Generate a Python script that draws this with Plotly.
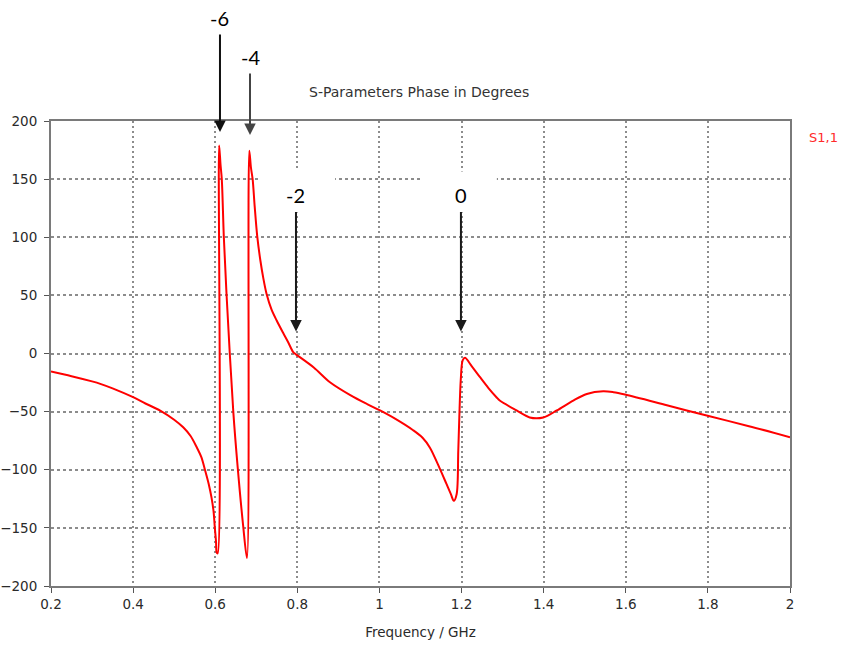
import plotly.graph_objects as go

# S1,1 phase response (GHz, degrees)
freq_ghz = [
    0.20, 0.25, 0.30, 0.32, 0.35, 0.40, 0.43, 0.466, 0.50, 0.522, 0.54,
    0.555, 0.566, 0.575, 0.584, 0.591, 0.596, 0.599, 0.602, 0.6036, 0.606,
    0.6095, 0.613, 0.616, 0.621, 0.628, 0.644, 0.655, 0.668, 0.6774,
    0.683, 0.687, 0.6912, 0.696, 0.7025, 0.71, 0.717, 0.7253, 0.737, 0.7497,
    0.765, 0.778, 0.79, 0.795,
    0.84, 0.8795, 0.93, 0.97, 1.0015, 1.04, 1.082, 1.105, 1.123, 1.147, 1.163,
    1.174, 1.181, 1.188, 1.192, 1.1945, 1.198, 1.2027, 1.2083, 1.225, 1.245,
    1.265, 1.285, 1.293, 1.334, 1.366, 1.399, 1.432, 1.472, 1.505, 1.545, 1.57,
    1.598, 1.70, 1.797, 1.90, 2.00,
]
phase_deg = [
    -15.5, -19.5, -24.0, -26.1, -30.0, -37.6, -43.0, -49.1, -57.0, -63.5, -71.0,
    -80.7, -89.0, -100.0, -112.0, -124.0, -136.0, -149.7, -162.0, -171.3, -172.0,
    179.0, 162.0, 150.0, 100.0, 48.0, -50.0, -99.0, -148.0, -176.0,
    174.4, 160.0, 149.7, 127.0, 100.3, 80.0, 65.0, 50.9, 38.0, 28.4,
    18.0, 9.5, 1.1, -0.3,
    -12.0, -24.7, -36.0, -43.5, -49.0, -56.5, -66.0, -72.5, -81.0, -99.0, -112.0,
    -121.0, -126.7, -121.0, -83.6, -55.0, -23.0, -6.0, -3.7, -11.0, -20.4,
    -29.5, -37.6, -40.5, -49.0, -55.0, -55.0, -49.0, -40.5, -34.8, -32.5, -33.3,
    -35.3, -44.5, -53.4, -62.5, -72.0,
]

x_tick_vals = [0.2, 0.4, 0.6, 0.8, 1.0, 1.2, 1.4, 1.6, 1.8, 2.0]
x_tick_text = ["0.2", "0.4", "0.6", "0.8", "1", "1.2", "1.4", "1.6", "1.8", "2"]
y_tick_vals = [-200, -150, -100, -50, 0, 50, 100, 150, 200]

# callouts: label, frequency of arrow tip, phase of arrow tip
marker_labels = ["-6", "-4", "-2", "0"]
marker_freq = [0.6116, 0.6847, 0.7967, 1.1985]
marker_phase = [190.5, 187.9, 19.0, 19.0]

TICK_FONT = dict(family="DejaVu Sans", size=13.5, color="#2a2a2a")

fig = go.Figure()
fig.add_trace(go.Scatter(
    x=freq_ghz, y=phase_deg, mode="lines", name="S1,1",
    line=dict(color="#ff0000", width=2, shape="spline", smoothing=0.9),
    showlegend=False,
))

axis_common = dict(
    showline=True, mirror=True, linecolor="#7a7a7a", linewidth=2,
    ticks="outside", ticklen=5, tickwidth=1, tickcolor="#555555",
    showgrid=True, gridcolor="#8c8c8c", gridwidth=1.5,
    zeroline=False, tickfont=TICK_FONT, automargin=False,
)

fig.update_xaxes(
    range=[0.2, 2.0], tickvals=x_tick_vals, ticktext=x_tick_text,
    griddash="2px,3px",
    title=dict(text="Frequency / GHz", font=TICK_FONT, standoff=16),
    **axis_common,
)
fig.update_yaxes(
    range=[-200, 200], tickvals=y_tick_vals,
    griddash="3px,3px", ticklabelstandoff=4,
    **axis_common,
)

# white label backgrounds that interrupt the grid
label_boxes = [
    dict(x0=0.709, x1=0.892, y0=121.5, y1=158.0),
    dict(x0=1.106, x1=1.286, y0=121.5, y1=156.5),
]
for b in label_boxes:
    fig.add_shape(type="rect", xref="x", yref="y", layer="between",
                  fillcolor="white", line=dict(width=0), **b)

label_offsets = [-114, -78, -136, -136]
arrow_colors = ["#111111", "#444444", "#1a1a1a", "#1a1a1a"]
for txt, fx, py, dy, col in zip(marker_labels, marker_freq, marker_phase,
                                label_offsets, arrow_colors):
    fig.add_annotation(
        x=fx, y=py, xref="x", yref="y", text=txt,
        showarrow=True, ax=0, ay=dy, arrowhead=2, arrowsize=1.15,
        arrowwidth=2, arrowcolor=col, startstandoff=3,
        font=dict(family="Lato", size=20, color="#000000"),
    )

# chart title, positioned in paper fractions of the 739x465 plot area
fig.add_annotation(
    x=0.5 + (419 - (51 + 739 / 2)) / 739, y=1 + (121 - 92) / 465,
    xref="paper", yref="paper", xanchor="center", yanchor="middle",
    text="S-Parameters Phase in Degrees", showarrow=False,
    font=dict(family="DejaVu Sans", size=14, color="#333333"),
)
fig.add_annotation(
    x=1.0, y=1.0, xref="paper", yref="paper", xanchor="left", yanchor="middle",
    xshift=17, yshift=-16, text="S1,1", showarrow=False,
    font=dict(family="DejaVu Sans", size=13, color="#ff2a2a"),
)

fig.update_layout(
    width=843, height=645,
    margin=dict(l=51, r=53, t=121, b=59),
    paper_bgcolor="white", plot_bgcolor="white",
)

fig.write_html("out.html")
